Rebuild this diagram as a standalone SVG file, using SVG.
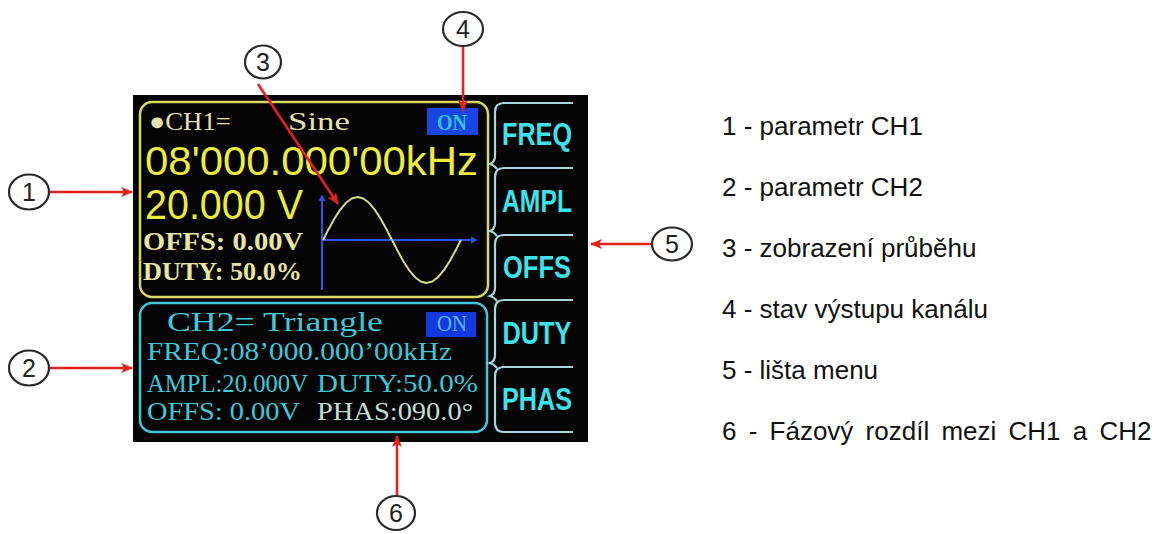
<svg xmlns="http://www.w3.org/2000/svg" width="1166" height="534" viewBox="0 0 1166 534">
<defs>
<marker id="ah" viewBox="0 0 12 10" refX="11" refY="5" markerWidth="12" markerHeight="10" markerUnits="userSpaceOnUse" orient="auto">
<path d="M0,0 L12,5 L0,10 L3,5 z" fill="#e3211d"/>
</marker>
<marker id="bh" viewBox="0 0 8 8" refX="6" refY="4" markerWidth="7" markerHeight="7" markerUnits="userSpaceOnUse" orient="auto">
<path d="M0,0 L8,4 L0,8 z" fill="#2a55e8"/>
</marker>
<style>
.num{font-family:"Liberation Sans",Arial,sans-serif;font-size:25px;fill:#222;text-anchor:middle}
.circ{fill:#fff;stroke:#2a2a2a;stroke-width:2.2}
.arr{stroke:#e3211d;stroke-width:2.6;fill:none;marker-end:url(#ah)}
.leg{font-family:"Liberation Sans",Arial,sans-serif;font-size:26px;fill:#111}
.lcd{font-family:"Liberation Serif","Times New Roman",serif}
.big{font-family:"Liberation Sans",Arial,sans-serif;fill:#ecec3e}
.menu{font-family:"Liberation Sans",Arial,sans-serif;font-weight:bold;font-size:31px;fill:#3ee2ea;text-anchor:middle}
.mline{fill:none;stroke:#a9d6dc;stroke-width:2.2}
.cy{fill:#3ec8da}
</style>
</defs>
<rect width="1166" height="534" fill="#fff"/>

<g id="screen">
<rect x="133" y="95" width="455" height="347" fill="#040404"/>
</g>

<g id="ch1">
<rect x="140" y="102" width="348" height="195" rx="12" fill="none" stroke="#d8d862" stroke-width="2.5"/>
<text class="lcd" x="149" y="130" font-size="25" fill="#e6e2b0" textLength="82" lengthAdjust="spacingAndGlyphs">●CH1=</text>
<text class="lcd" x="288" y="130" font-size="25" fill="#e6e2b0" textLength="62" lengthAdjust="spacingAndGlyphs">Sine</text>
<rect x="427" y="108" width="51" height="27" fill="#1846e4"/>
<text class="lcd" x="437" y="130" font-size="24" font-weight="bold" fill="#2fc6c8" textLength="30" lengthAdjust="spacingAndGlyphs">ON</text>
<text class="big" x="145" y="175" font-size="40" textLength="333" lengthAdjust="spacingAndGlyphs">08'000.000'00kHz</text>
<text class="big" x="145" y="219" font-size="43" textLength="158" lengthAdjust="spacingAndGlyphs">20.000 V</text>
<text class="lcd" x="143" y="250" font-size="26" font-weight="bold" fill="#e8e4a2" textLength="160" lengthAdjust="spacingAndGlyphs">OFFS: 0.00V</text>
<text class="lcd" x="143" y="280" font-size="26" font-weight="bold" fill="#e8e4a2" textLength="159" lengthAdjust="spacingAndGlyphs">DUTY: 50.0%</text>
</g>

<g id="waveform">
<line x1="322" y1="290" x2="322" y2="196" stroke="#2a55e8" stroke-width="2" marker-end="url(#bh)"/>
<line x1="322" y1="240" x2="476" y2="240" stroke="#2a55e8" stroke-width="2" marker-end="url(#bh)"/>
<polyline fill="none" stroke="#d9d88e" stroke-width="2" stroke-linejoin="round" points="323,240 328.75,228.9 334.5,218.5 340.25,209.6 346,202.8 351.75,198.5 357.5,197 363.25,198.5 369,202.8 374.75,209.6 380.5,218.5 386.25,228.9 392,240 397.75,251.1 403.5,261.5 409.25,270.4 415,277.2 420.75,281.5 426.5,283 432.25,281.5 438,277.2 443.75,270.4 449.5,261.5 455.25,251.1 461,240"/>
</g>

<g id="ch2">
<rect x="140" y="303" width="347" height="129" rx="12" fill="none" stroke="#45c4d6" stroke-width="2.5"/>
<text class="lcd cy" x="167" y="331" font-size="27" textLength="216" lengthAdjust="spacingAndGlyphs">CH2=  Triangle</text>
<rect x="426" y="312" width="50" height="25" fill="#1238e0"/>
<text class="lcd" x="437" y="331" font-size="24" fill="#5cb8f4" textLength="30" lengthAdjust="spacingAndGlyphs">ON</text>
<text class="lcd cy" x="147" y="360" font-size="26" textLength="305" lengthAdjust="spacingAndGlyphs">FREQ:08’000.000’00kHz</text>
<text class="lcd cy" x="147" y="392" font-size="26" textLength="161" lengthAdjust="spacingAndGlyphs">AMPL:20.000V</text>
<text class="lcd cy" x="317" y="392" font-size="26" textLength="161" lengthAdjust="spacingAndGlyphs">DUTY:50.0%</text>
<text class="lcd cy" x="147" y="420" font-size="26" textLength="153" lengthAdjust="spacingAndGlyphs">OFFS: 0.00V</text>
<text class="lcd" x="317" y="420" font-size="26" fill="#c6dcd2" textLength="156" lengthAdjust="spacingAndGlyphs">PHAS:090.0°</text>
</g>

<g id="menu">
<path class="mline" d="M573,103 H504 Q495,103 495,112 V156 Q495,162 490,164 Q494,165 497,169"/>
<path class="mline" d="M573,168 H504 Q495,168 495,177 V223 Q495,229 490,231 Q494,232 497,236"/>
<path class="mline" d="M573,235 H504 Q495,235 495,244 V288 Q495,294 490,296 Q494,297 497,301"/>
<path class="mline" d="M573,300 H504 Q495,300 495,309 V355 Q495,361 490,363 Q494,364 497,368"/>
<path class="mline" d="M573,367 H504 Q495,367 495,376 V423 Q495,432 504,432 H573"/>
<text class="menu" x="537" y="145" textLength="70" lengthAdjust="spacingAndGlyphs">FREQ</text>
<text class="menu" x="537" y="212" textLength="70" lengthAdjust="spacingAndGlyphs">AMPL</text>
<text class="menu" x="537" y="278" textLength="68" lengthAdjust="spacingAndGlyphs">OFFS</text>
<text class="menu" x="537" y="344" textLength="69" lengthAdjust="spacingAndGlyphs">DUTY</text>
<text class="menu" x="537" y="410" textLength="70" lengthAdjust="spacingAndGlyphs">PHAS</text>
</g>

<g id="connectors">
<line class="arr" x1="49" y1="192" x2="132" y2="192"/>
<line class="arr" x1="49" y1="368" x2="132" y2="368"/>
<line class="arr" x1="258" y1="84" x2="338" y2="204"/>
<line class="arr" x1="463" y1="46" x2="463" y2="111"/>
<line class="arr" x1="651" y1="244" x2="591" y2="244"/>
<line class="arr" x1="397" y1="495" x2="397" y2="436"/>
</g>

<g id="label1"><ellipse class="circ" cx="29" cy="192" rx="20" ry="17.5"/><text class="num" x="29" y="201">1</text></g>
<g id="label2"><ellipse class="circ" cx="29" cy="368" rx="20" ry="17.5"/><text class="num" x="29" y="377">2</text></g>
<g id="label3"><ellipse class="circ" cx="263" cy="62" rx="18" ry="16.5"/><text class="num" x="263" y="71">3</text></g>
<g id="label4"><ellipse class="circ" cx="463" cy="29" rx="20" ry="17"/><text class="num" x="463" y="38">4</text></g>
<g id="label5"><ellipse class="circ" cx="672" cy="244" rx="20" ry="16.5"/><text class="num" x="672" y="253">5</text></g>
<g id="label6"><ellipse class="circ" cx="396" cy="513" rx="19" ry="17"/><text class="num" x="396" y="522">6</text></g>

<g id="legend">
<text class="leg" x="722" y="135">1 - parametr CH1</text>
<text class="leg" x="722" y="196">2 - parametr CH2</text>
<text class="leg" x="722" y="257">3 - zobrazení průběhu</text>
<text class="leg" x="722" y="318">4 - stav výstupu kanálu</text>
<text class="leg" x="722" y="379">5 - lišta menu</text>
<text class="leg" x="722" y="440" word-spacing="5">6 - Fázový rozdíl mezi CH1 a CH2</text>
</g>
</svg>
